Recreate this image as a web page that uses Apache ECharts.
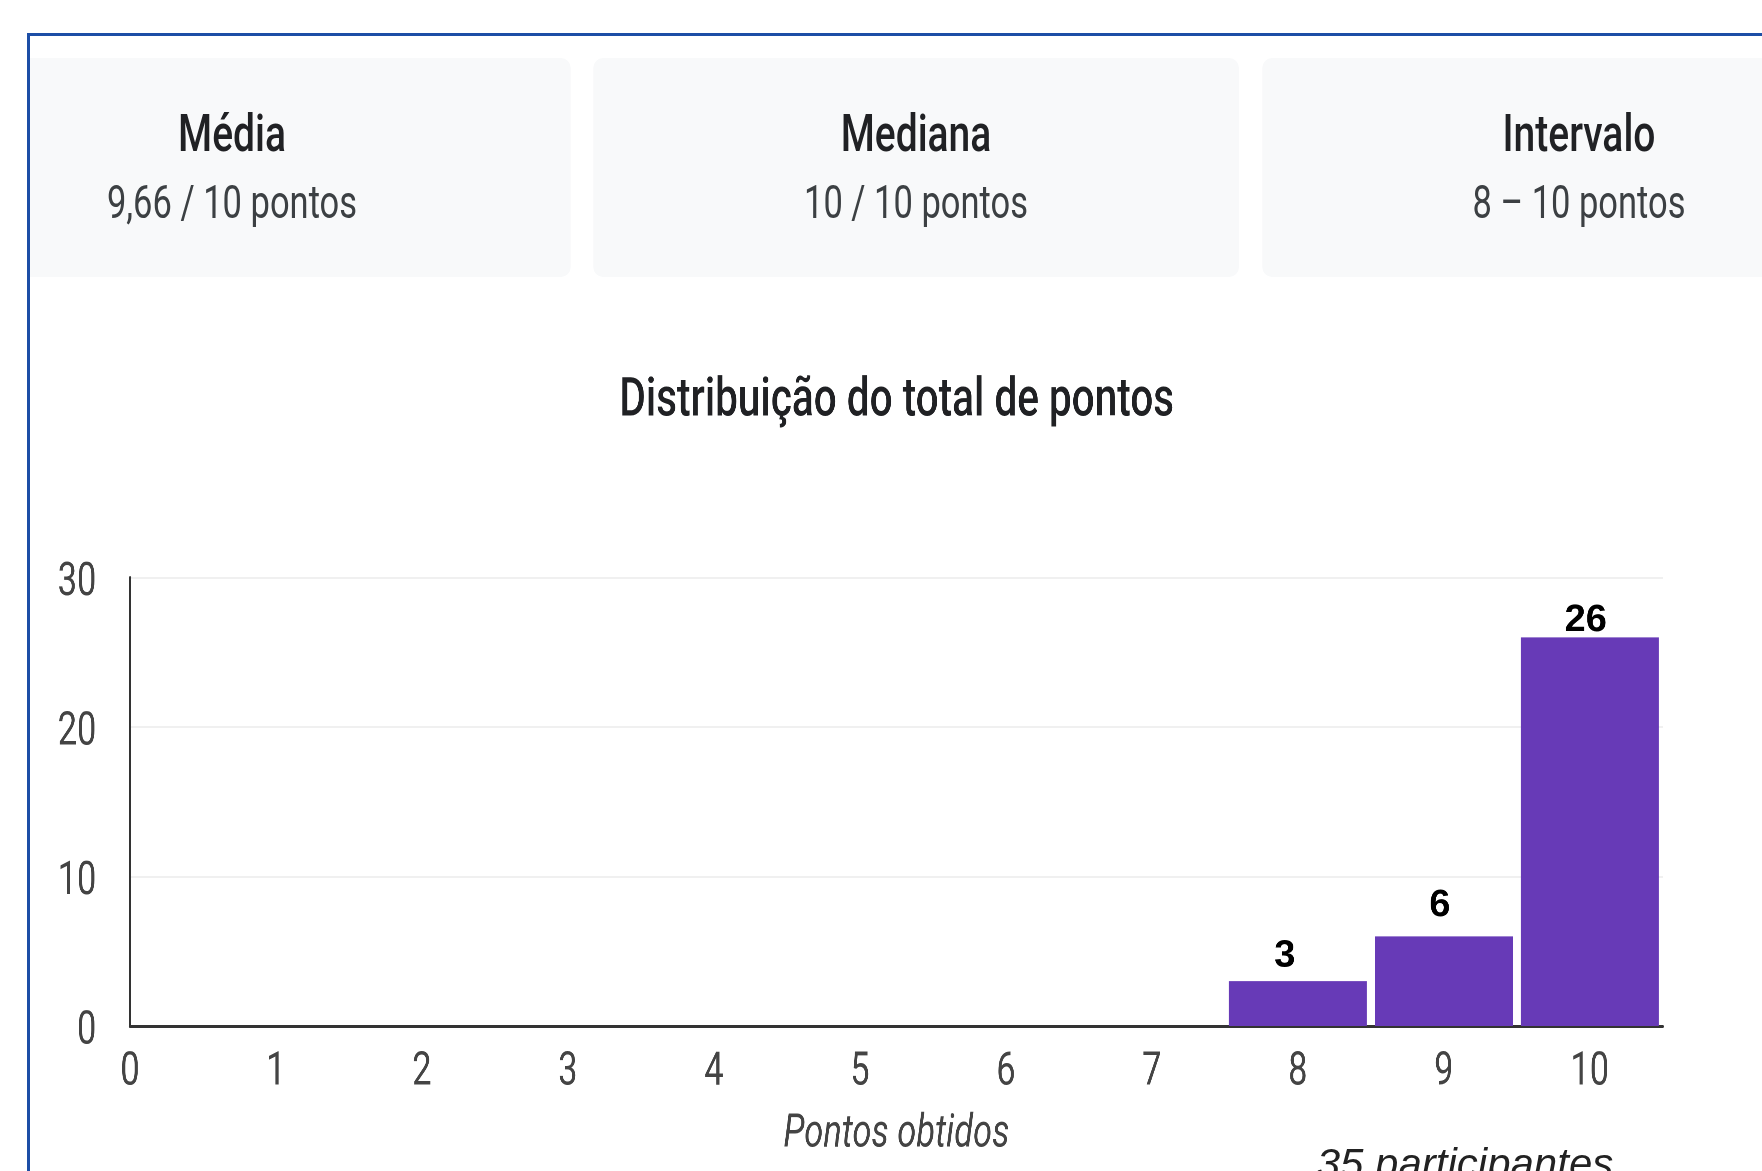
<!DOCTYPE html>
<html lang="pt">
<head>
<meta charset="utf-8">
<script src="https://cdn.jsdelivr.net/npm/echarts@6/dist/echarts.min.js"></script>
<style>
    html, body { margin: 0; padding: 0; background: #fff; }
    body { width: 1762px; height: 1171px; overflow: hidden; position: relative; font-family: Roboto, "Noto Sans", sans-serif; }
    #clip { position: absolute; left: 30px; top: 36px; right: 0; bottom: 0; overflow: hidden; }
    /* the screenshot is squeezed sideways, so the whole page is drawn wide and scaled down */
    #stage { position: absolute; left: -30px; top: -36px; width: 2349.33px; height: 1171px; transform: scaleX(0.75); transform-origin: 0 0; }
    #frame { position: absolute; left: 27px; top: 33px; right: -10px; bottom: -10px; border-left: 3px solid #1d4ea6; border-top: 3px solid #1d4ea6; pointer-events: none; }
    .card { position: absolute; top: 58px; height: 219px; background: #f8f9fa; border-radius: 13px / 10px; }
    .card-title, .card-value { position: absolute; width: 1000px; text-align: center; line-height: 1; white-space: nowrap; }
    .card-title { top: 108px; font-size: 52px; font-weight: 500; color: #202124; }
    .card-value { top: 179px; font-size: 46px; color: #3c4043; }
    #chart { position: absolute; left: 0; top: 0; width: 2349.33px; height: 1171px; }
    #participants { position: absolute; left: 1135px; top: 1107px; width: 600px; text-align: center; line-height: 1;
        font-family: "Liberation Sans", Arial, sans-serif; font-style: italic; font-size: 42px; color: #222; white-space: nowrap; }
</style>
</head>
<body>
<div id="clip">
    <div id="stage">
        <div id="cards"></div>
        <div id="chart"></div>
    </div>
    <div id="participants"></div>
</div>
<div id="frame"></div>

<script>
const SQUEEZE = 0.75;

const cardTitles = ["Média", "Mediana", "Intervalo"];
const cardValues = ["9,66 / 10 pontos", "10 / 10 pontos", "8 – 10 pontos"];

const chartTitle = "Distribuição do total de pontos";
const xName = "Pontos obtidos";
const participants = "35 participantes";

const scores = [8, 9, 10];
const counts = [3, 6, 26];
const xMin = 0;
const xMax = 10.5;
const yMax = 30;
const yStep = 10;

// card boxes and text centres, in page pixels
const cardBoxes = [[-75, 571], [593, 1239], [1262, 1908]];
const cardCenters = [232, 916, 1579];
// hand placed value labels in the original: [dx, lift] in page pixels
const labelNudge = [[-13, -2], [-4, 4], [-4, -10]];

const px = v => v / SQUEEZE;

const cardsBox = document.getElementById("cards");
cardTitles.forEach((title, i) => {
    const card = document.createElement("div");
    card.className = "card";
    card.style.left = `${px(cardBoxes[i][0])}px`;
    card.style.width = `${px(cardBoxes[i][1] - cardBoxes[i][0])}px`;
    cardsBox.appendChild(card);

    const head = document.createElement("div");
    head.className = "card-title";
    head.style.left = `${px(cardCenters[i]) - 500}px`;
    head.textContent = title;
    cardsBox.appendChild(head);

    const value = document.createElement("div");
    value.className = "card-value";
    value.style.left = `${px(cardCenters[i]) - 500}px`;
    value.textContent = cardValues[i];
    cardsBox.appendChild(value);
});

document.getElementById("participants").textContent = participants;

const chart = echarts.init(document.getElementById("chart"), null, {renderer: "canvas", devicePixelRatio: 2});

const tickText = {fontFamily: "Roboto", fontSize: 46, color: "#444"};

chart.setOption({
    animation: false,
    title: {
        text: chartTitle,
        left: px(893),
        textAlign: "center",
        top: 370,
        textStyle: {fontFamily: "Roboto", fontSize: 54, fontWeight: 500, color: "#202124"}
    },
    grid: {left: px(130), right: px(1762 - 1663), top: 577.6, bottom: 1171 - 1026, containLabel: false},
    xAxis: {
        type: "value",
        min: xMin,
        max: xMax,
        interval: 1,
        name: xName,
        nameLocation: "middle",
        nameGap: 86,
        nameTextStyle: {fontFamily: "Roboto", fontSize: 46, fontStyle: "italic", color: "#444"},
        axisLine: {show: true, lineStyle: {color: "#333", width: 3}},
        axisTick: {show: false},
        splitLine: {show: false},
        axisLabel: {
            ...tickText,
            margin: 24,
            showMaxLabel: false,
            formatter: v => Number.isInteger(v) ? String(v) : ""
        }
    },
    yAxis: {
        type: "value",
        min: 0,
        max: yMax,
        interval: yStep,
        axisLine: {show: true, lineStyle: {color: "#333", width: 3}},
        axisTick: {show: false},
        splitLine: {show: true, lineStyle: {color: "#f0f0f0", width: 2}},
        // labels sit a little below their grid lines in the original
        axisLabel: {...tickText, margin: px(33.6), verticalAlign: "top", lineHeight: 12}
    },
    series: [
        {
            type: "bar",
            data: scores.map((s, i) => [s, counts[i]]),
            barWidth: px(138),
            itemStyle: {color: "#673ab7"},
            z: 2
        },
        {
            // value labels keep their normal width, so undo the page squeeze on them
            type: "custom",
            data: scores.map((s, i) => [s, counts[i]]),
            renderItem: (params, api) => {
                const top = api.coord([api.value(0), api.value(1)]);
                const nudge = labelNudge[params.dataIndex];
                return {
                    type: "text",
                    x: top[0] + px(nudge[0]),
                    y: top[1] - 8 - nudge[1],
                    scaleX: 1 / SQUEEZE,
                    style: {
                        text: String(api.value(1)),
                        fill: "#000",
                        font: 'bold 38px "Liberation Sans", Arial, sans-serif',
                        align: "center",
                        verticalAlign: "bottom"
                    }
                };
            },
            z: 5
        }
    ]
});
</script>
</body>
</html>
